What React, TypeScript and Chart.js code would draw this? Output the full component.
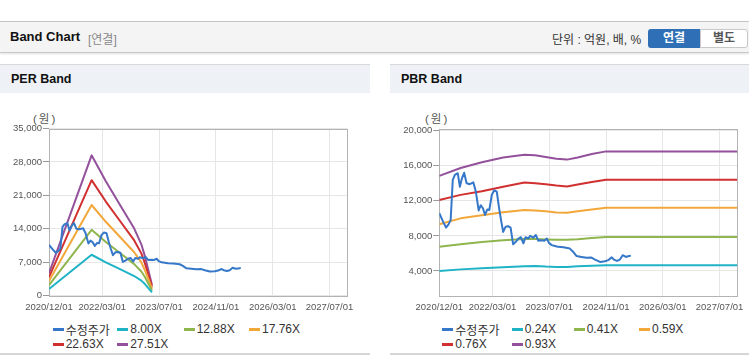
import React, { useEffect, useRef } from 'react';
import { Chart, registerables } from 'chart.js';

Chart.register(...registerables);

// ---------- data ----------
// x positions are month offsets from 2020/12/01
const xTickMonths = [0, 15, 31, 47, 63, 79];
const xTickLabels = ['2020/12/01', '2022/03/01', '2023/07/01', '2024/11/01', '2026/03/01', '2027/07/01'];
const X_MAX = 84;

const priceLabel = '수정주가';
const priceMonths = [
  0, 1.1, 1.9, 2.5, 3.2, 3.8, 4.4, 5.2, 5.8, 6.4, 7.0, 7.7, 8.6, 9.6, 10.3, 11.1, 11.7, 12.3, 12.9, 13.5,
  14.1, 14.8, 15.5, 16.2, 16.8, 17.4, 18.0, 18.7, 19.4, 20.1, 20.8, 21.5, 22.3, 23.0, 23.7, 24.3, 25.1, 25.6,
  26.5, 27.2, 27.9, 28.8, 29.6, 30.3, 30.9, 31.7, 32.6, 33.5, 35.0, 36.8, 37.7, 38.7, 40.1, 41.5, 42.9, 43.9,
  45.3, 46.7, 47.6, 48.6, 49.2, 50.1, 50.9, 51.7, 52.6, 53.2, 54.0,
];
const priceValues = [
  10600, 9600, 8950, 9250, 9800, 14400, 14950, 15150, 13600, 14600, 15200, 14000, 13900, 14100, 13050, 10900, 11500, 11150, 10400, 11000,
  10950, 12700, 13200, 13050, 11300, 9800, 8450, 9050, 9100, 8950, 7050, 7300, 7700, 7850, 7150, 7850, 7700, 8000,
  7800, 8100, 7450, 7500, 7450, 7700, 7200, 6950, 6850, 6750, 6700, 6550, 6200, 5700, 5600, 5500, 5530, 5300,
  5030, 5100, 5230, 5550, 5300, 5150, 5300, 5800, 5600, 5680, 5750,
];

// PER band
const perMonths = [0, 12, 16, 20, 24, 26, 27, 29];
const perLabels = ['8.00X', '12.88X', '17.76X', '22.63X', '27.51X'];
const per800 = [1360, 8540, 6960, 5520, 4080, 3120, 2400, 640];
const per1288 = [2190, 13760, 11210, 8890, 6570, 5020, 3860, 1030];
const per1776 = [3020, 18970, 15450, 12250, 9060, 6930, 5330, 1420];
const per2263 = [3850, 24170, 19690, 15620, 11540, 8830, 6790, 1810];
const per2751 = [4680, 29380, 23930, 18980, 14030, 10730, 8250, 2200];
const perYTicks = [0, 7000, 14000, 21000, 28000, 35000];

// PBR band
const pbrMonths = [0, 6, 12, 18, 24, 27, 30, 33, 36, 39, 43, 47, 84];
const pbrLabels = ['0.24X', '0.41X', '0.59X', '0.76X', '0.93X'];
const pbr024 = [4000, 4180, 4320, 4420, 4550, 4570, 4500, 4460, 4460, 4550, 4600, 4650, 4650];
const pbr041 = [6750, 7050, 7300, 7500, 7650, 7650, 7600, 7550, 7550, 7620, 7750, 7860, 7860];
const pbr059 = [9320, 10000, 10350, 10700, 10950, 10900, 10800, 10670, 10650, 10800, 11000, 11220, 11220];
const pbr076 = [12100, 12680, 13100, 13600, 14080, 14000, 13900, 13750, 13630, 13850, 14150, 14400, 14400];
const pbr093 = [14850, 15740, 16400, 16950, 17250, 17200, 17000, 16800, 16700, 16950, 17350, 17640, 17640];
const pbrYTicks = [4000, 8000, 12000, 16000, 20000];

const colors = ['#3577c8', '#1fb3c6', '#8fb54f', '#f2a73b', '#d0302f', '#93519b'];

const FONT = "'Liberation Sans', 'Noto Sans CJK KR', Arial, sans-serif";

const framePlugin = {
  id: 'frame',
  beforeDatasetsDraw(chart: any) {
    const { ctx, chartArea: a } = chart;
    ctx.save();
    ctx.strokeStyle = '#b3b3b3';
    ctx.lineWidth = 1;
    const l = Math.round(a.left) + 0.5;
    const t = Math.round(a.top) + 0.5;
    const r = Math.round(a.right) + 0.5;
    const b = Math.round(a.bottom) + 0.5;
    ctx.strokeRect(l, t, r - l, b - t);
    ctx.restore();
  },
};

function toPoints(xs: number[], ys: number[]) {
  return xs.map((x, i) => ({ x, y: ys[i] }));
}

type Spec = {
  datasets: { label: string; xs: number[]; ys: number[]; color: string }[];
  yMin: number;
  yMax: number;
  yTicks: number[];
  yAxisWidth: number;
  padRight: number;
  width: number;
  height: number;
};

function BandCanvas({ spec }: { spec: Spec }) {
  const ref = useRef<HTMLCanvasElement | null>(null);
  useEffect(() => {
    if (!ref.current) return;
    const chart = new Chart(ref.current, {
      type: 'line',
      data: {
        datasets: spec.datasets.map((d) => ({
          label: d.label,
          data: toPoints(d.xs, d.ys),
          borderColor: d.color,
          backgroundColor: d.color,
          borderWidth: 2,
          pointRadius: 0,
          tension: 0,
          fill: false,
          borderJoinStyle: 'round' as const,
        })),
      },
      options: {
        animation: false,
        responsive: false,
        maintainAspectRatio: false,
        layout: { padding: { top: 28.5, right: spec.padRight, left: 0, bottom: 0 } },
        plugins: { legend: { display: false }, tooltip: { enabled: false } },
        scales: {
          x: {
            type: 'linear',
            min: 0,
            max: X_MAX,
            afterBuildTicks: (scale: any) => {
              scale.ticks = xTickMonths.map((v) => ({ value: v }));
            },
            afterFit: (scale: any) => {
              scale.height = 24.5;
              scale.paddingLeft = 0;
              scale.paddingRight = 0;
            },
            grid: { color: '#e6e6e6', drawTicks: false },
            border: { display: false },
            ticks: {
              autoSkip: false,
              maxRotation: 0,
              padding: 6,
              color: '#555',
              font: { family: FONT, size: 9.5 },
              callback: (_v: any, i: number) => xTickLabels[i],
            },
          },
          y: {
            type: 'linear',
            min: spec.yMin,
            max: spec.yMax,
            afterBuildTicks: (scale: any) => {
              scale.ticks = spec.yTicks.map((v) => ({ value: v }));
            },
            afterFit: (scale: any) => {
              scale.width = spec.yAxisWidth;
              scale.paddingTop = 0;
              scale.paddingBottom = 0;
            },
            grid: { color: '#e6e6e6', tickLength: 6, tickColor: '#999' },
            border: { display: false },
            ticks: {
              padding: 1,
              color: '#555',
              font: { family: FONT, size: 9.5 },
              callback: (v: any) => Number(v).toLocaleString('en-US'),
            },
          },
        },
      } as any,
      plugins: [framePlugin],
    });
    return () => chart.destroy();
  }, [spec]);
  return <canvas ref={ref} width={spec.width} height={spec.height} style={{ width: spec.width, height: spec.height, display: 'block' }} />;
}

const perSpec: Spec = {
  datasets: [
    { label: priceLabel, xs: priceMonths, ys: priceValues, color: colors[0] },
    { label: perLabels[0], xs: perMonths, ys: per800, color: colors[1] },
    { label: perLabels[1], xs: perMonths, ys: per1288, color: colors[2] },
    { label: perLabels[2], xs: perMonths, ys: per1776, color: colors[3] },
    { label: perLabels[3], xs: perMonths, ys: per2263, color: colors[4] },
    { label: perLabels[4], xs: perMonths, ys: per2751, color: colors[5] },
  ],
  yMin: 0,
  yMax: 35000,
  yTicks: perYTicks,
  yAxisWidth: 49,
  padRight: 22.7,
  width: 370,
  height: 220,
};

const pbrSpec: Spec = {
  datasets: [
    { label: priceLabel, xs: priceMonths, ys: priceValues, color: colors[0] },
    { label: pbrLabels[0], xs: pbrMonths, ys: pbr024, color: colors[1] },
    { label: pbrLabels[1], xs: pbrMonths, ys: pbr041, color: colors[2] },
    { label: pbrLabels[2], xs: pbrMonths, ys: pbr059, color: colors[3] },
    { label: pbrLabels[3], xs: pbrMonths, ys: pbr076, color: colors[4] },
    { label: pbrLabels[4], xs: pbrMonths, ys: pbr093, color: colors[5] },
  ],
  yMin: 1200,
  yMax: 20250,
  yTicks: pbrYTicks,
  yAxisWidth: 49.3,
  padRight: 11.7,
  width: 359,
  height: 220,
};

function Legend({ labels, xs, left }: { labels: string[]; xs: number[]; left: number }) {
  const rows = [329.3, 344];
  return (
    <>
      {labels.map((lab, i) => {
        const row = i < 4 ? 0 : 1;
        const col = i < 4 ? i : i - 4;
        return (
          <div
            key={lab}
            style={{
              position: 'absolute',
              left: left + xs[col],
              top: rows[row] - 8,
              height: 16,
              display: 'flex',
              alignItems: 'center',
              fontSize: 12,
              color: '#333',
              whiteSpace: 'nowrap',
            }}
          >
            <span style={{ display: 'inline-block', width: 11, height: 3, background: colors[i], marginRight: 2 }} />
            <span>{lab}</span>
          </div>
        );
      })}
    </>
  );
}

function Panel({ left, width, title, spec, legendLabels, legendXs }: any) {
  return (
    <>
      <div style={{ position: 'absolute', left, top: 64, width, height: 1, background: '#d9d9d9' }} />
      <div
        style={{
          position: 'absolute',
          left,
          top: 65,
          width,
          height: 28,
          background: '#eef2f7',
          fontWeight: 'bold',
          fontSize: 12.5,
          lineHeight: '28px',
          color: '#111',
        }}
      >
        <span style={{ marginLeft: 11 }}>{title}</span>
      </div>
      <div
        style={{
          position: 'absolute',
          left: left + (left === 0 ? 33 : 35),
          top: 111,
          fontSize: 11.5,
          color: '#555',
          lineHeight: '16px',
          letterSpacing: 2,
        }}
      >
        (원)
      </div>
      <div style={{ position: 'absolute', left, top: 100 }}>
        <BandCanvas spec={spec} />
      </div>
      <Legend labels={legendLabels} xs={legendXs} left={left} />
      <div style={{ position: 'absolute', left, top: 353, width, height: 2, background: '#d6d6d6' }} />
    </>
  );
}

export default function App() {
  return (
    <div
      style={{
        position: 'fixed',
        left: 0,
        top: 0,
        width: 749,
        height: 364,
        background: '#fff',
        overflow: 'hidden',
        fontFamily: FONT,
      }}
    >
      {/* header */}
      <div
        style={{
          position: 'absolute',
          left: 0,
          top: 21,
          width: 749,
          height: 30,
          background: '#f4f4f4',
          borderTop: '1px solid #c4c4c4',
          borderBottom: '1px solid #c8c8c8',
          boxShadow: '0 1px 2px rgba(0,0,0,0.12)',
        }}
      >
        <span style={{ position: 'absolute', left: 10, top: 7, fontSize: 13, fontWeight: 'bold', color: '#111' }}>Band Chart</span>
        <span style={{ position: 'absolute', left: 88, top: 8, fontSize: 12, color: '#888' }}>[연결]</span>
        <span style={{ position: 'absolute', left: 552, top: 8, fontSize: 12, color: '#333' }}>단위 : 억원, 배, %</span>
        <div
          style={{
            position: 'absolute',
            left: 648,
            top: 7,
            width: 52,
            height: 19,
            background: '#2f6fb6',
            borderRadius: '3px 0 0 3px',
            color: '#fff',
            fontWeight: 'bold',
            fontSize: 12,
            textAlign: 'center',
            lineHeight: '19px',
          }}
        >
          연결
        </div>
        <div
          style={{
            position: 'absolute',
            left: 700,
            top: 7,
            width: 46,
            height: 17,
            background: '#fff',
            border: '1px solid #c8c8c8',
            borderRadius: '0 3px 3px 0',
            color: '#555',
            fontWeight: 'bold',
            fontSize: 12,
            textAlign: 'center',
            lineHeight: '17px',
          }}
        >
          별도
        </div>
      </div>

      <Panel
        left={0}
        width={370}
        title="PER Band"
        spec={perSpec}
        legendLabels={[priceLabel, ...perLabels]}
        legendXs={[52.7, 117.3, 183.7, 249]}
      />
      <Panel
        left={390}
        width={359}
        title="PBR Band"
        spec={pbrSpec}
        legendLabels={[priceLabel, ...pbrLabels]}
        legendXs={[52.3, 121.7, 183.7, 249]}
      />
    </div>
  );
}
